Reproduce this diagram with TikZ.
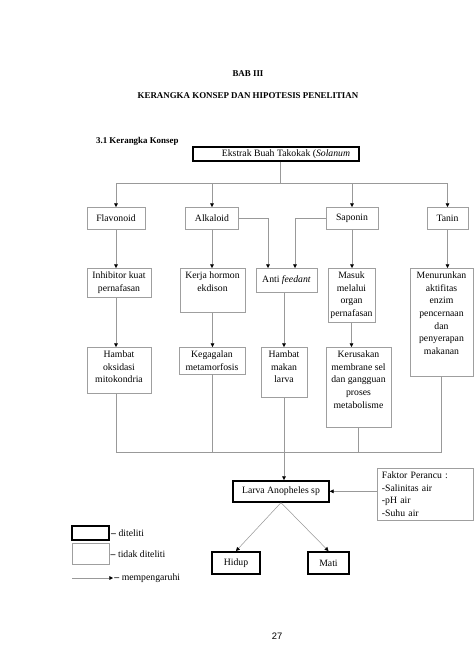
\documentclass[tikz,border=0pt]{standalone}
\usepackage{fontspec}
\setmainfont{Liberation Serif}
\newfontfamily\pagefont{Liberation Sans}
\usetikzlibrary{arrows.meta}
\tikzset{
  every node/.style={font=\fontsize{8.3}{10.8}\selectfont},
  thinbox/.style={draw=gray!75, line width=0.5pt, anchor=north, align=center, inner xsep=2pt, inner ysep=3pt},
  thickbox/.style={thinbox, draw=black, line width=1.4pt},
  link/.style={draw=gray!80, line width=0.45pt},
  arr/.style={link, -{Triangle[length=3.2pt,width=3.2pt,color=black]}},
  heading/.style={font=\fontsize{7.6}{9}\selectfont\bfseries},
}
\begin{document}
\begin{tikzpicture}[x=0.03cm,y=-0.03cm]
\useasboundingbox (0,0) rectangle (474,670);
\node[heading] (bab) at (248,74) {BAB III};
\node[heading] (judul) at (248,96) {KERANGKA KONSEP DAN HIPOTESIS PENELITIAN};
\node[heading, anchor=west] (sub) at (92,141) {3.1 Kerangka Konsep};
\node[thickbox, minimum width=4.92cm, minimum height=0.42cm, inner ysep=1pt] (ekstrak) at (276,146) {\hspace*{0.8cm}Ekstrak Buah Takokak (\textit{Solanum}\hspace*{0.2cm}};
% kandungan
\node[thinbox, minimum width=1.74cm, minimum height=0.66cm] (flav) at (116,207) {Flavonoid};
\node[thinbox, minimum width=1.59cm, minimum height=0.66cm] (alk) at (212,207) {Alkaloid};
\node[thinbox, minimum width=1.56cm, minimum height=0.66cm] (sap) at (352,207) {Saponin};
\node[thinbox, minimum width=1.23cm, minimum height=0.66cm] (tanin) at (447.5,207) {Tanin};
% mekanisme
\node[thinbox, minimum width=1.92cm, text depth=2.2pt] (inhib) at (119,268) {Inhibitor kuat\\pernafasan};
\node[thinbox, minimum width=1.95cm, text depth=15pt] (kerja) at (212.5,268) {Kerja hormon\\ekdison};
\node[thinbox, minimum width=1.83cm, minimum height=0.72cm] (anti) at (286.5,268) {Anti \textit{feedant}};
\node[thinbox, minimum width=1.35cm, text depth=1.9pt] (masuk) at (351.5,268) {Masuk\\melalui\\organ\\pernafasan};
\node[thinbox, minimum width=1.89cm, text depth=15.6pt] (turun) at (441.5,268) {Menurunkan\\aktifitas\\enzim\\pencernaan\\dan\\penyerapan\\makanan};
% akibat
\node[thinbox, minimum width=1.92cm, text depth=5.9pt] (oksidasi) at (119,347) {Hambat\\oksidasi\\mitokondria};
\node[thinbox, minimum width=1.98cm] (gagal) at (212,347) {Kegagalan\\metamorfosis};
\node[thinbox, minimum width=1.38cm, text depth=9.3pt] (makan) at (284,347) {Hambat\\makan\\larva};
\node[thinbox, minimum width=1.95cm, text depth=13.3pt] (rusak) at (358.5,347) {Kerusakan\\membrane sel\\dan gangguan\\proses\\metabolisme};
% larva
\coordinate (bus) at (0,452);
\node[thickbox, minimum width=2.88cm, minimum height=0.63cm] (larva) at (281,480) {Larva Anopheles sp};
\node[thinbox, anchor=north west, align=left, inner xsep=4pt, text width=2.6cm] (faktor) at (377,468) {Faktor Perancu :\\-Salinitas air\\-pH air\\-Suhu air};
\node[thickbox, minimum width=1.44cm, minimum height=0.66cm] (hidup) at (236,551) {Hidup};
\node[thickbox, minimum width=1.23cm, minimum height=0.66cm] (mati) at (328.5,551) {Mati};
% keterangan
\node[thickbox, minimum width=1.11cm, minimum height=0.42cm, inner sep=0pt] (ket1) at (90.5,525) {};
\node[anchor=west, inner xsep=1pt] (ketA) at (ket1.east) {\textbf{--} diteliti};
\node[thinbox, minimum width=1.11cm, minimum height=0.63cm, inner sep=0pt] (ket2) at (90.5,543) {};
\node[anchor=west, inner xsep=1pt] (ketB) at (ket2.east) {\textbf{--} tidak diteliti};
\coordinate (ket3) at (72,578);
\coordinate (ket3e) at (113,578);
\draw[arr] (ket3) -- (ket3e);
\node[anchor=west, inner xsep=1pt] (ketC) at (ket3e) {\textbf{--} mempengaruhi};
\node[font=\pagefont\fontsize{8}{9}\selectfont] (hal) at (277,636) {27};
% garis
\coordinate (hub) at (280,183);
\draw[link] (hub |- ekstrak.south) -- (hub);
\draw[link] (flav.north |- hub) -- (tanin.north |- hub);
\foreach \k in {flav,alk,sap,tanin} \draw[arr] (\k.north |- hub) -- (\k.north);
\coordinate (antiL) at (268,268);
\coordinate (antiR) at (295,268);
\draw[arr] (alk.east) -| (antiL);
\draw[arr] (sap.west) -| (antiR);
\draw[arr] (flav.south) -- (flav.south |- inhib.north);
\draw[arr] (alk.south) -- (alk.south |- kerja.north);
\draw[arr] (sap.south) -- (sap.south |- masuk.north);
\draw[arr] (tanin.south) -- (tanin.south |- turun.north);
\draw[arr] (flav.south |- inhib.south) -- (flav.south |- oksidasi.north);
\draw[arr] (kerja.south) -- (kerja.south |- gagal.north);
\draw[arr] (makan.north |- anti.south) -- (makan.north);
\draw[arr] (masuk.south) -- (masuk.south |- rusak.north);
\draw[link] (flav.south |- oksidasi.south) -- (flav.south |- bus);
\draw[link] (gagal.south) -- (gagal.south |- bus);
\draw[link] (makan.south) -- (makan.south |- bus);
\draw[link] (rusak.south) -- (rusak.south |- bus);
\draw[link] (turun.south) -- (turun.south |- bus);
\draw[link] (flav.south |- bus) -- (turun.south |- bus);
\draw[arr] (makan.south |- bus) -- (makan.south |- larva.north);
\draw[arr] (faktor.west |- larva.east) -- (larva.east);
\draw[arr] (larva.south) -- (hidup.north);
\draw[arr] (larva.south) -- (mati.north);
\end{tikzpicture}
\end{document}
